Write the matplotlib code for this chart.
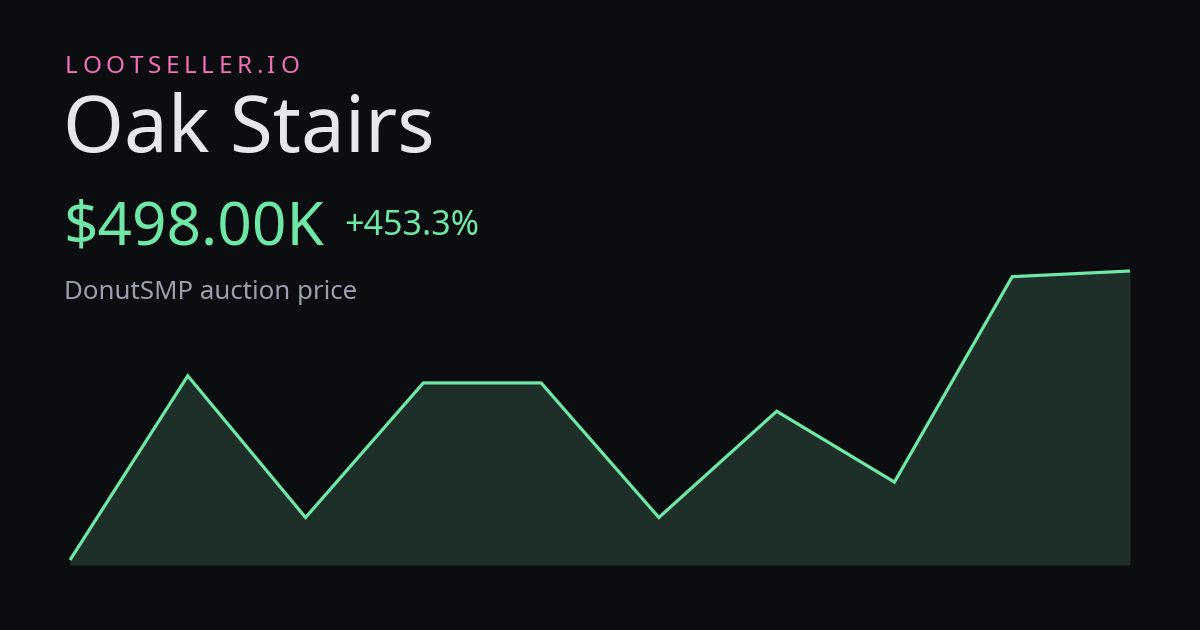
import matplotlib
matplotlib.use("Agg")
import matplotlib.pyplot as plt

# data (values in thousands)
prices = [90, 350, 150, 340, 340, 150, 300, 200, 490, 498]
points = list(range(len(prices)))
brand = "LOOTSELLER.IO"
item = "Oak Stairs"
price_label = "$498.00K"
change_label = "+453.3%"
subtitle = "DonutSMP auction price"

BG = "#0c0d11"
GREEN = "#6ee7a7"
FILL = "#1e2f2a"
PINK = "#f472b6"
W, H = 1200, 630

plt.rcParams['font.family'] = ['Noto Sans', 'DejaVu Sans']
fig = plt.figure(figsize=(W / 100, H / 100), dpi=100, facecolor=BG)

def fx(px):
    return px / W

def fy(py):
    return 1 - py / H

# chart area
ax = fig.add_axes([fx(70), fy(565), fx(1130) - fx(70), fy(271) - fy(565)])
ax.set_facecolor(BG)
ax.patch.set_alpha(0)
lo, hi = min(prices), max(prices)
ymin = lo - (hi - lo) * 5 / 289
ax.set_xlim(points[0], points[-1])
ax.set_ylim(ymin, hi)
ax.fill_between(points, prices, ymin, color=FILL, linewidth=0)
ax.plot(points, prices, color=GREEN, linewidth=2.3, solid_joinstyle='miter',
        solid_capstyle='butt', clip_on=False)
ax.axis('off')

# brand with letter spacing
fig.canvas.draw()
renderer = fig.canvas.get_renderer()
x = 65
for ch in brand:
    t = fig.text(fx(x), fy(73), ch, color=PINK, fontsize=17.5, va='baseline', ha='left')
    bb = t.get_window_extent(renderer)
    x += bb.width + 4.6

fig.text(fx(63), fy(152), item, color="#e6e7eb", fontsize=56.3, va='baseline', ha='left')
fig.text(fx(63), fy(245), price_label, color=GREEN, fontsize=43.4, va='baseline', ha='left')
fig.text(fx(344), fy(235), change_label, color=GREEN, fontsize=24.5, va='baseline', ha='left')
fig.text(fx(64), fy(299), subtitle, color="#9ba0b0", fontsize=18.6, va='baseline', ha='left')

fig.savefig("out.png", dpi=100, facecolor=BG)
